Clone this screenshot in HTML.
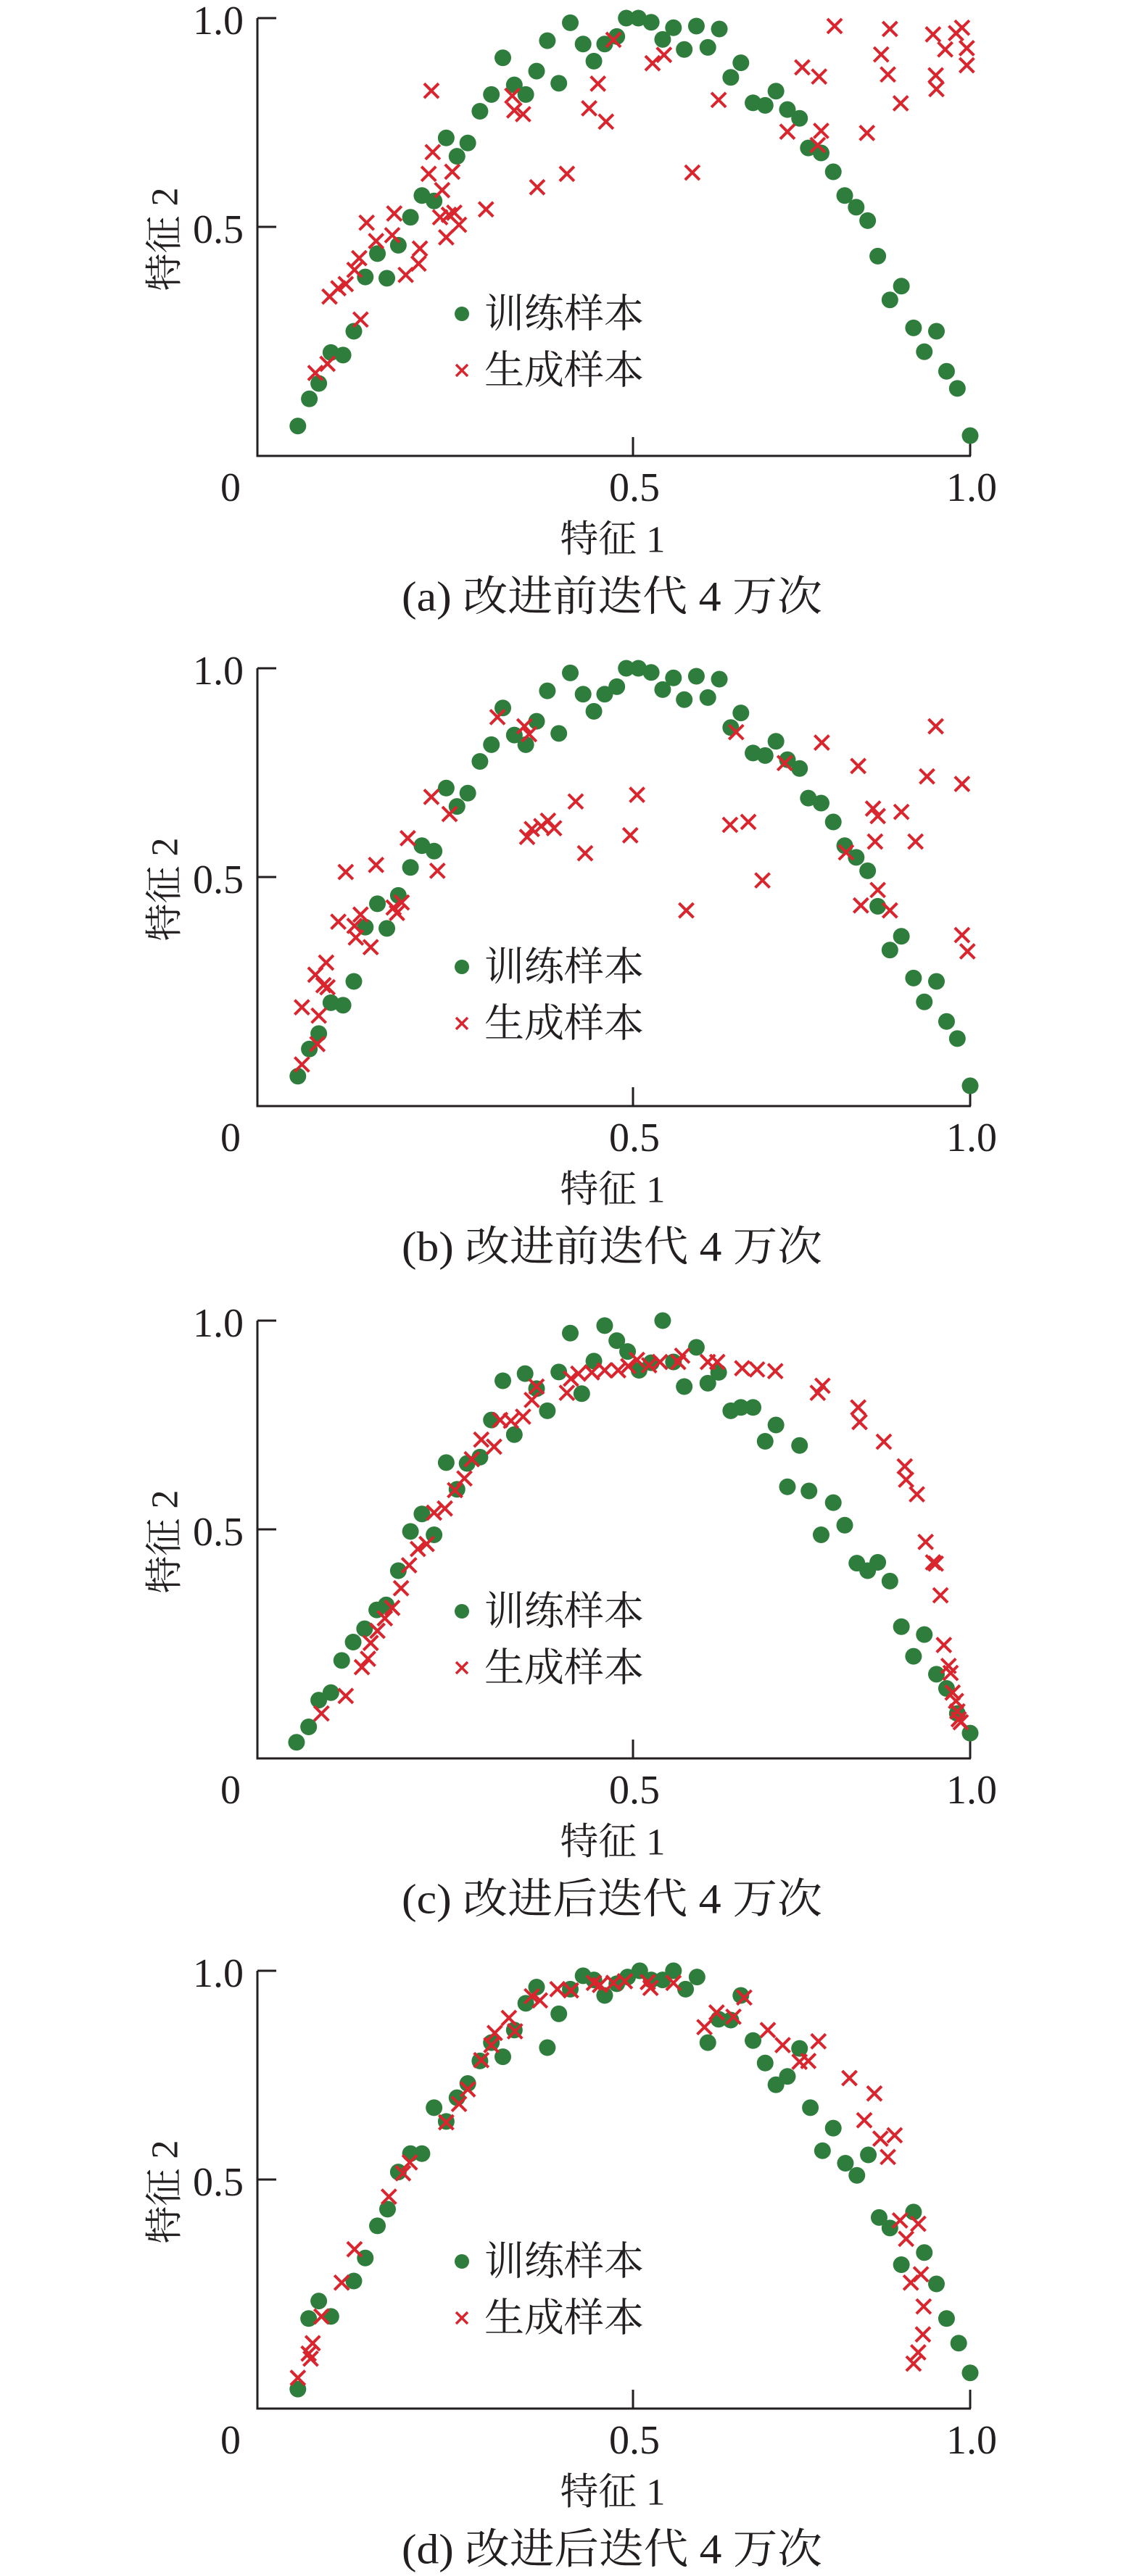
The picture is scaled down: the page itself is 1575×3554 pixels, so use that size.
<!DOCTYPE html>
<html>
<head>
<meta charset="utf-8">
<style>
html,body{margin:0;padding:0;background:#fff;}
svg{display:block;}
text{fill:#231f20;font-family:"Liberation Serif","Noto Serif CJK SC",serif;}
</style>
</head>
<body>
<svg id="chart" width="1575" height="3554" viewBox="0 0 1575 3554" xmlns="http://www.w3.org/2000/svg"></svg>
<script>
// ---- data (feature 1 = x, feature 2 = y) ----
const trainABX = [.003,.020,.034,.052,.070,.086,.103,.121,.135,.152,.170,.187,.205,.223,.239,.255,.273,.290,.307,.324,.341,.357,.373,.390,.407,.426,.442,.458,.476,.490,.508,.527,.544,.560,.576,.594,.611,.628,.645,.660,.678,.696,.712,.729,.747,.760,.779,.797,.814,.831,.848,.863,.881,.898,.916,.932,.950,.965,.981,1.0];
const trainABY = [.023,.088,.125,.199,.193,.250,.380,.436,.377,.456,.523,.575,.562,.713,.669,.701,.777,.817,.905,.840,.817,.873,.946,.844,.989,.938,.897,.938,.956,1.0,1.0,.990,.949,.977,.925,.981,.930,.974,.858,.893,.797,.791,.825,.781,.760,.689,.677,.632,.575,.547,.515,.430,.325,.358,.258,.201,.250,.154,.113,.0];

const genAX = [.029,.047,.050,.063,.074,.087,.094,.096,.105,.119,.143,.146,.163,.182,.184,.197,.201,.203,.214,.217,.223,.227,.232,.235,.242,.282,.321,.324,.337,.358,.402,.435,.448,.460,.471,.529,.546,.588,.627,.729,.751,.776,.779,.774,.799,.847,.868,.878,.881,.897,.945,.949,.950,.963,.979,.988,.995,.995];
const genAY = [.150,.172,.333,.353,.363,.397,.425,.278,.510,.466,.480,.532,.385,.412,.448,.627,.826,.679,.523,.588,.475,.529,.632,.534,.505,.542,.814,.779,.770,.595,.627,.784,.843,.752,.948,.892,.912,.630,.804,.728,.882,.860,.730,.696,.981,.725,.913,.865,.974,.796,.961,.863,.830,.925,.964,.977,.928,.887];

const genBX = [.009,.032,.009,.034,.029,.045,.041,.047,.063,.074,.087,.089,.096,.111,.119,.145,.150,.157,.166,.201,.210,.228,.299,.339,.346,.343,.350,.364,.374,.383,.415,.429,.496,.506,.579,.644,.653,.671,.692,.725,.780,.816,.834,.838,.856,.859,.863,.863,.881,.898,.919,.936,.949,.988,.988,.996];
const genBY = [.051,.100,.188,.168,.266,.295,.241,.236,.393,.512,.383,.355,.410,.332,.529,.427,.414,.439,.593,.692,.515,.651,.883,.861,.842,.596,.615,.622,.635,.617,.681,.557,.600,.697,.420,.625,.847,.632,.492,.773,.822,.559,.766,.432,.664,.585,.646,.469,.420,.656,.585,.741,.861,.723,.361,.322];

const trainCX = [.001,.019,.034,.052,.068,.085,.102,.120,.134,.152,.170,.187,.205,.223,.239,.254,.273,.290,.307,.324,.340,.357,.373,.390,.407,.424,.442,.458,.476,.492,.509,.527,.544,.560,.576,.594,.611,.627,.645,.660,.678,.696,.712,.729,.747,.761,.779,.797,.814,.832,.848,.863,.881,.898,.916,.932,.950,.965,.981,1.0];
const trainCY = [-.01,.027,.091,.109,.186,.230,.262,.307,.319,.401,.495,.537,.487,.660,.596,.658,.673,.762,.856,.727,.873,.837,.784,.877,.970,.825,.903,.988,.952,.926,.881,.899,1.0,.901,.842,.936,.850,.876,.784,.792,.792,.711,.750,.602,.701,.592,.487,.564,.510,.419,.401,.421,.376,.267,.196,.248,.153,.119,.059,.012];

const genCX = [.038,.074,.098,.107,.111,.121,.132,.143,.156,.168,.181,.194,.205,.221,.236,.250,.261,.275,.294,.303,.319,.337,.350,.357,.402,.408,.419,.439,.458,.478,.493,.506,.524,.540,.567,.573,.611,.625,.662,.684,.711,.774,.781,.834,.836,.872,.903,.905,.921,.934,.945,.949,.956,.961,.968,.971,.974,.979,.981,.983,.986];
const genCY = [.059,.101,.170,.190,.228,.257,.287,.312,.359,.414,.453,.465,.540,.550,.594,.622,.668,.715,.698,.762,.760,.770,.810,.842,.827,.861,.873,.876,.881,.881,.891,.906,.893,.901,.901,.916,.901,.901,.886,.883,.879,.827,.844,.792,.757,.710,.651,.619,.584,.470,.421,.418,.342,.223,.173,.156,.109,.089,.064,.045,.038];

const trainDX = [.003,.019,.034,.052,.086,.103,.121,.136,.152,.170,.187,.205,.223,.239,.255,.273,.290,.307,.324,.341,.357,.373,.390,.407,.426,.442,.458,.476,.492,.510,.527,.544,.560,.578,.595,.611,.627,.645,.660,.678,.696,.712,.729,.747,.763,.781,.797,.815,.832,.849,.865,.881,.898,.916,.932,.950,.965,.983,1.0];
const trainDY = [-.002,.167,.209,.172,.257,.312,.389,.429,.518,.562,.562,.672,.639,.696,.730,.784,.828,.794,.858,.922,.961,.816,.897,.956,.988,.978,.941,.969,.985,1.0,.978,.978,1.0,.956,.985,.828,.884,.882,.941,.833,.779,.727,.747,.814,.672,.569,.623,.539,.510,.559,.409,.384,.296,.422,.325,.250,.167,.108,.037];

const genDX = [.003,.019,.022,.025,.038,.068,.087,.138,.159,.169,.223,.242,.255,.275,.290,.295,.316,.325,.350,.362,.388,.408,.442,.451,.471,.488,.522,.526,.560,.606,.624,.649,.665,.700,.722,.747,.760,.775,.821,.843,.858,.867,.878,.888,.896,.905,.912,.923,.927,.931,.930,.923,.916];
const genDY = [.025,.083,.071,.108,.172,.253,.333,.459,.515,.541,.637,.681,.716,.786,.822,.851,.887,.855,.939,.929,.956,.953,.971,.966,.971,.975,.973,.959,.971,.865,.900,.890,.936,.858,.822,.782,.784,.831,.743,.642,.706,.598,.554,.606,.402,.358,.253,.394,.273,.196,.129,.086,.059];

const xTickVals = [0.5, 1.0];
const xTickLabels = ["0.5", "1.0"];
const yTickVals = [0.5, 1.0];
const yTickLabels = ["0.5", "1.0"];
const captions = ["(a) 改进前迭代 4 万次","(b) 改进前迭代 4 万次","(c) 改进后迭代 4 万次","(d) 改进后迭代 4 万次"];

// ---- drawing ----
const NS = "http://www.w3.org/2000/svg";
const svg = document.getElementById("chart");
const GREEN = "#2f7d3c", RED = "#d9262e", INK = "#231f20";
const AX_LEFT = 355, AX_RIGHT = 1339;
function X(v){ return 408 + 930 * v; }
function mk(tag, attrs, parent){
  const e = document.createElementNS(NS, tag);
  for (const k in attrs) e.setAttribute(k, attrs[k]);
  parent.appendChild(e);
  return e;
}
function drawCross(g, cx, cy, h, w){
  const p = mk("path", {d:`M${cx-h},${cy-h}L${cx+h},${cy+h}M${cx+h},${cy-h}L${cx-h},${cy+h}`, stroke:RED, "stroke-width":w, fill:"none"}, g);
  return p;
}
function panel(idx, T, tx, ty, gx, gy, legDy){
  const Y = v => T + 576 * (1 - v);
  const B = T + 604;
  const g = mk("g", {}, svg);
  
  

  const ax = mk("path", {d:`M${AX_LEFT},${T}L${AX_LEFT},${B}L${AX_RIGHT},${B}`, stroke:INK, "stroke-width":3, fill:"none"}, g);
  
  

  yTickVals.forEach((v,i)=>{
    const t = mk("line", {x1:AX_LEFT, x2:AX_LEFT+26, y1:Y(v), y2:Y(v), stroke:INK, "stroke-width":3}, g);
    
    
    const l = mk("text", {x:336, y:Y(v)+4, "text-anchor":"end", "dominant-baseline":"central", "font-size":56}, g);
    l.textContent = yTickLabels[i];
    
    
  });
  xTickVals.forEach((v,i)=>{
    const t = mk("line", {x1:X(v), x2:X(v), y1:B, y2:B-26, stroke:INK, "stroke-width":3}, g);
    
    
    const l = mk("text", {x:X(v)+2, y:T+648, "text-anchor":"middle", "dominant-baseline":"central", "font-size":56}, g);
    l.textContent = xTickLabels[i];
    
    
  });
  const z = mk("text", {x:318, y:T+648, "text-anchor":"middle", "dominant-baseline":"central", "font-size":56}, g);
  z.textContent = "0";
  
  

  const yt = mk("text", {x:0, y:0, "text-anchor":"middle", "dominant-baseline":"central", "font-size":52, transform:`translate(228,${T+305}) rotate(-90)`}, g);
  yt.textContent = "特征 2";
  
  

  const xt = mk("text", {x:845, y:T+720, "text-anchor":"middle", "dominant-baseline":"central", "font-size":52, textLength:145, lengthAdjust:"spacingAndGlyphs"}, g);
  xt.textContent = "特征 1";
  
  

  const cap = mk("text", {x:844, y:T+798, "text-anchor":"middle", "dominant-baseline":"central", "font-size":58, textLength:580, lengthAdjust:"spacingAndGlyphs"}, g);
  cap.textContent = captions[idx];
  
  

  // legend
  const lg = mk("g", {}, g);
  
  
  const ld = mk("circle", {cx:637, cy:T+legDy, r:10, fill:GREEN}, lg);
  
  
  const lt1 = mk("text", {x:668, y:T+legDy, "dominant-baseline":"central", "font-size":55}, lg);
  lt1.textContent = "训练样本";
  
  
  const lc = drawCross(lg, 637, T+legDy+78, 8, 3.5);
  
  
  const lt2 = mk("text", {x:668, y:T+legDy+78, "dominant-baseline":"central", "font-size":55}, lg);
  lt2.textContent = "生成样本";
  
  

  // series
  const sg = mk("g", {}, g);
  
  
  tx.forEach((v,i)=>{
    const c = mk("circle", {cx:X(v), cy:Y(ty[i]), r:11.5, fill:GREEN}, sg);
    
    
  });
  const rg = mk("g", {}, g);
  
  
  gx.forEach((v,i)=>{
    const c = drawCross(rg, X(v), Y(gy[i]), 10, 4);
    
    
  });
}
panel(0, 25, trainABX, trainABY, genAX, genAY, 408);
panel(1, 922, trainABX, trainABY, genBX, genBY, 412);
panel(2, 1822, trainCX, trainCY, genCX, genCY, 401);
panel(3, 2719, trainDX, trainDY, genDX, genDY, 401);
</script>
</body>
</html>
